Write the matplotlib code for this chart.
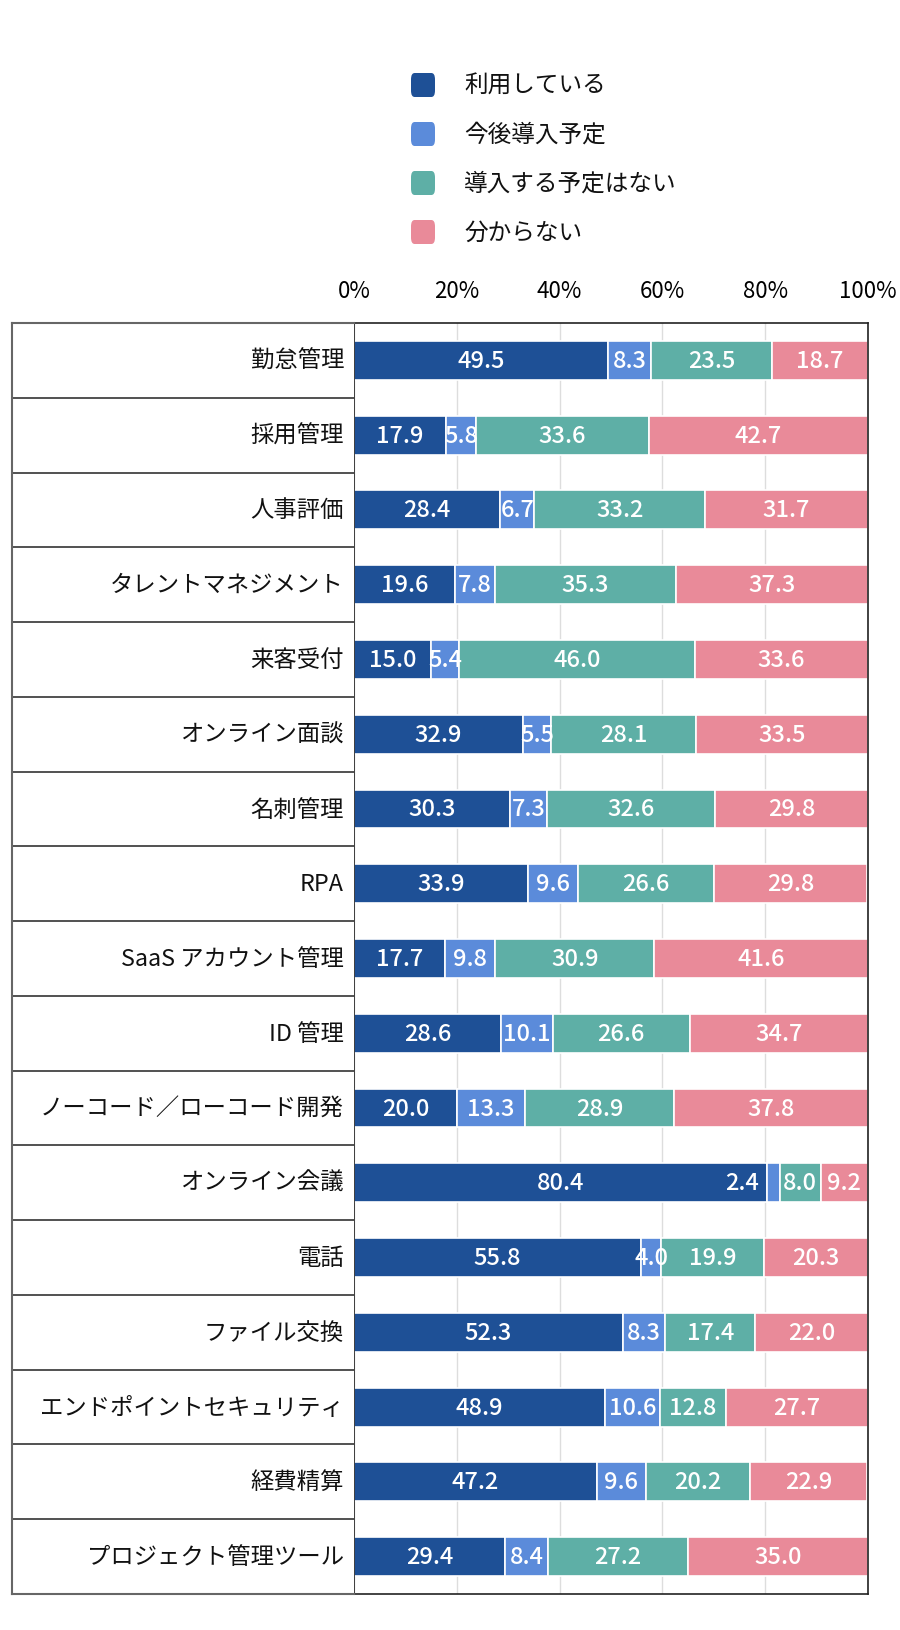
import matplotlib.pyplot as plt
import numpy as np
from matplotlib.patches import FancyBboxPatch

plt.rcParams['font.family'] = ['Noto Sans CJK JP', 'DejaVu Sans']

categories = ['勤怠管理', '採用管理', '人事評価', 'タレントマネジメント', '来客受付',
              'オンライン面談', '名刺管理', 'RPA', 'SaaS アカウント管理', 'ID 管理',
              'ノーコード／ローコード開発', 'オンライン会議', '電話', 'ファイル交換',
              'エンドポイントセキュリティ', '経費精算', 'プロジェクト管理ツール']
series_names = ['利用している', '今後導入予定', '導入する予定はない', '分からない']
using = [49.5, 17.9, 28.4, 19.6, 15.0, 32.9, 30.3, 33.9, 17.7, 28.6, 20.0, 80.4, 55.8, 52.3, 48.9, 47.2, 29.4]
planned = [8.3, 5.8, 6.7, 7.8, 5.4, 5.5, 7.3, 9.6, 9.8, 10.1, 13.3, 2.4, 4.0, 8.3, 10.6, 9.6, 8.4]
no_plan = [23.5, 33.6, 33.2, 35.3, 46.0, 28.1, 32.6, 26.6, 30.9, 26.6, 28.9, 8.0, 19.9, 17.4, 12.8, 20.2, 27.2]
unknown = [18.7, 42.7, 31.7, 37.3, 33.6, 33.5, 29.8, 29.8, 41.6, 34.7, 37.8, 9.2, 20.3, 22.0, 27.7, 22.9, 35.0]
xticks = [0, 20, 40, 60, 80, 100]

colors = ['#1e5096', '#5b8bda', '#5eafa6', '#e98a99']

W, H = 900, 1631
fig = plt.figure(figsize=(W / 100, H / 100), dpi=100)

left, right, top, bottom = 354, 868, 324, 1595
ax = fig.add_axes([left / W, 1 - bottom / H, (right - left) / W, (bottom - top) / H])
lab = fig.add_axes([12 / W, 1 - bottom / H, (left - 12) / W, (bottom - top) / H])

n = len(categories)
y = np.arange(n)
data = [using, planned, no_plan, unknown]
cum = np.zeros(n)
for vals, col in zip(data, colors):
    vals = np.array(vals)
    ax.barh(y, vals, left=cum, height=0.52, color=col, edgecolor='white', linewidth=1.2, zorder=2)
    for i, (v, c) in enumerate(zip(vals, cum)):
        xc = c + v / 2
        ha = 'center'
        if v < 3:
            # too thin: label sits to the left of the segment
            xc = c - 1.6
            ha = 'right'
        ax.text(xc, i, f'{v:.1f}', ha=ha, va='center', color='white', fontsize=17,
                fontweight='medium', zorder=3, clip_on=False)
    cum += vals

ax.set_xlim(0, 100)
ax.set_ylim(n - 0.5, -0.5)
ax.set_xticks(xticks)
ax.set_xticklabels([f'{t}%' for t in xticks], fontsize=16)
ax.xaxis.tick_top()
ax.tick_params(axis='x', length=0, pad=15)
ax.set_yticks([])
ax.grid(axis='x', color='#dddddd', linewidth=1, zorder=0)
for s in ax.spines.values():
    s.set_color('#222222')
    s.set_linewidth(1.2)

lab.set_xlim(0, 1)
lab.set_ylim(n - 0.5, -0.5)
lab.set_xticks([])
lab.set_yticks([])
for i in range(n - 1):
    lab.axhline(i + 0.5, color='#333333', linewidth=1.2)
for s in ['left', 'top', 'bottom']:
    lab.spines[s].set_color('#666666')
    lab.spines[s].set_linewidth(1.5)
lab.spines['right'].set_visible(False)
for i, c in enumerate(categories):
    lab.text(1 - 10 / (left - 12), i, c, ha='right', va='center', fontsize=16.8, color='#111111')

# legend
for k, name in enumerate(series_names):
    yc = 86 + k * 49
    box = FancyBboxPatch((411 / W, 1 - (yc + 12) / H), 24 / W, 24 / H,
                         boxstyle='round,pad=0,rounding_size=0.004',
                         transform=fig.transFigure, facecolor=colors[k], edgecolor='none')
    fig.add_artist(box)
    fig.text(464 / W, 1 - yc / H, name, ha='left', va='center', fontsize=17, color='#111111')

fig.savefig('out.png', dpi=100, facecolor='white')
